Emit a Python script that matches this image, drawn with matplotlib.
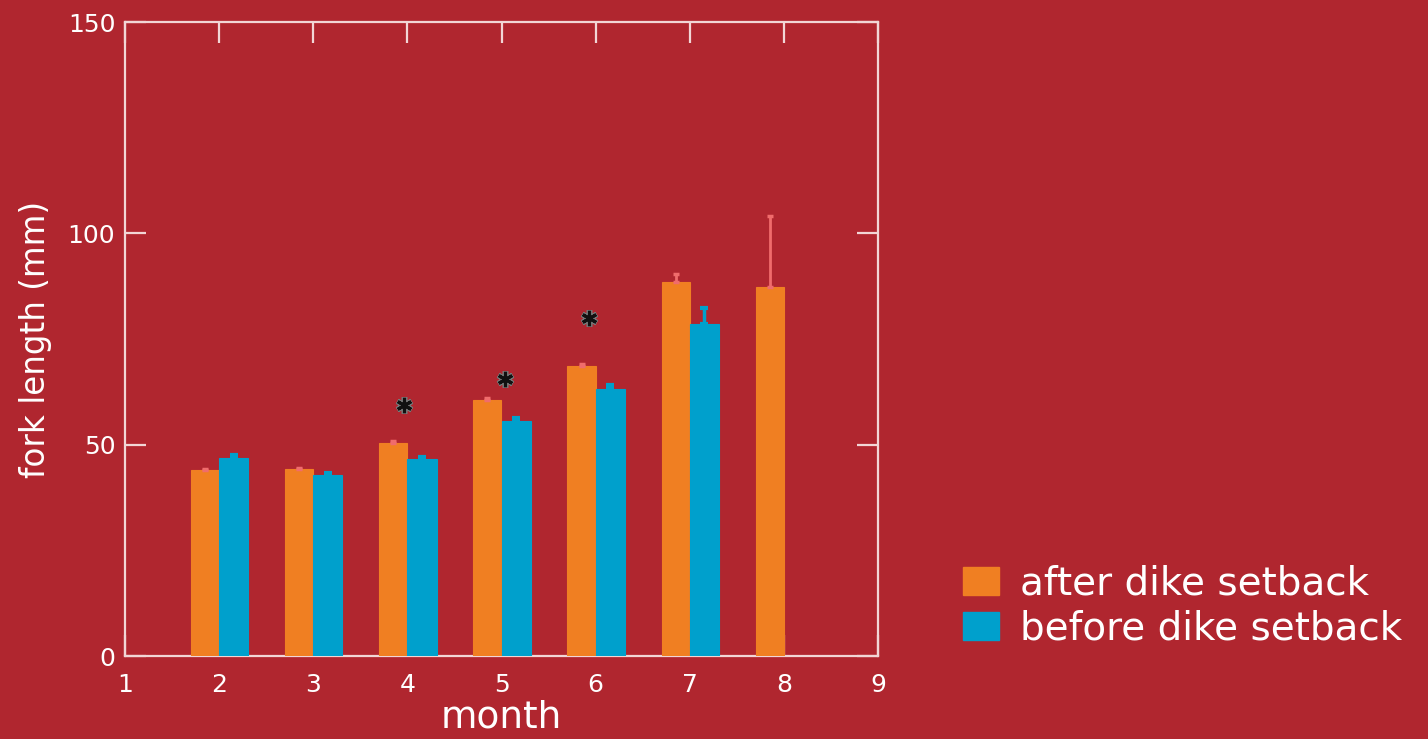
import numpy as np
import matplotlib
matplotlib.use("Agg")
import matplotlib.pyplot as plt
from matplotlib.patches import Patch

# values (fork length, mm)
months = [2, 3, 4, 5, 6, 7, 8]
after_mean = [43.9, 44.2, 50.5, 60.6, 68.6, 88.6, 87.2]
after_err = [0.4, 0.2, 0.4, 0.5, 0.6, 1.8, 16.9]

months_before = [2, 3, 4, 5, 6, 7]
before_mean = [46.8, 42.8, 46.7, 55.7, 63.2, 78.5]
before_err = [0.7, 0.6, 0.4, 0.5, 0.9, 3.9]

# significance markers
star_x = [3.96, 5.04, 5.93]
star_y = [59.5, 65.5, 79.9]

legend_labels = ["after dike setback", "before dike setback"]

bg = "#b0262f"
orange = "#f07f22"
blue = "#00a0cc"
orange_err = "#f06c6c"
axis_col = "#f2d6d6"
white = "#ffffff"

fig = plt.figure(figsize=(14.28, 7.39), dpi=100, facecolor=bg)
ax = fig.add_axes([125 / 1428, 83 / 739, 753 / 1428, 634 / 739])
ax.set_facecolor(bg)

x_after = np.array(months) - 0.15
x_before = np.array(months_before) + 0.155

ax.bar(x_after, after_mean, width=0.3, color=orange, edgecolor=orange,
       linewidth=0.8, zorder=3)
ax.bar(x_before, before_mean, width=0.31, color=blue, edgecolor=blue,
       linewidth=0.8, zorder=3)

# upper error bars only
ax.errorbar(x_after, after_mean, yerr=[np.zeros(len(after_err)), after_err],
            fmt="none", ecolor=orange_err, elinewidth=2, capsize=2.5,
            capthick=2.5, zorder=4)
ax.errorbar(x_before, before_mean, yerr=[np.zeros(len(before_err)), before_err],
            fmt="none", ecolor=blue, elinewidth=2.5, capsize=3,
            capthick=3, zorder=4)

# asterisks
ax.plot(star_x, star_y, linestyle="none", marker=(6, 2, 0), markersize=12,
        markeredgewidth=4, color="#777777", zorder=5)
ax.plot(star_x, star_y, linestyle="none", marker=(6, 2, 0), markersize=11,
        markeredgewidth=2.2, color="#111111", zorder=6)

ax.set_xlim(1, 9)
ax.set_ylim(0, 150)
ax.set_xticks(range(1, 10))
ax.set_yticks([0, 50, 100, 150])

for s in ax.spines.values():
    s.set_color(axis_col)
    s.set_linewidth(1.6)
    s.set_zorder(2.5)

ax.tick_params(axis="both", direction="in", length=15, width=1.6,
               color=axis_col, labelcolor=white, labelsize=18,
               top=True, right=True)
ax.tick_params(axis="x", pad=12)
ax.tick_params(axis="y", pad=7)

ax.set_xlabel("month", color=white, fontsize=27, labelpad=2)
ax.set_ylabel("fork length (mm)", color=white, fontsize=23.5, labelpad=11)

handles = [Patch(facecolor=orange, edgecolor=orange),
           Patch(facecolor=blue, edgecolor=blue)]
leg = fig.legend(handles, legend_labels, loc="center left",
                 bbox_to_anchor=(963 / 1428, 1 - 606 / 739), frameon=False,
                 fontsize=28, handlelength=0.92, handleheight=0.75,
                 handletextpad=0.55, labelspacing=0.18, borderpad=0,
                 borderaxespad=0)
for t in leg.get_texts():
    t.set_color(white)

fig.savefig("out.png", dpi=100, facecolor=bg)
